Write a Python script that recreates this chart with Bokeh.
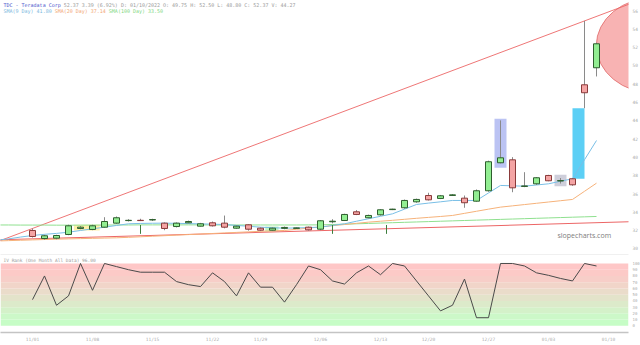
from bokeh.plotting import figure
from bokeh.layouts import column
from bokeh.models import Range1d, FixedTicker, Label
from bokeh.embed import file_html
from bokeh.resources import INLINE

# ---------------- data ----------------
idx = list(range(48))
opens = [31.97, 31.09, 31.13, 31.53, 32.19, 32.08, 32.33, 32.77, 33.05, 33.08,
         33.12, 32.77, 32.40, 32.81, 32.44, 32.81, 32.77, 32.22, 32.59, 32.22,
         32.00, 32.20, 32.20, 32.33, 32.11, 32.92, 33.06, 34.01, 33.36, 33.68,
         34.25, 34.45, 35.10, 35.79, 35.47, 35.80, 35.50, 35.17, 36.31, 39.37,
         39.69, 36.78, 37.07, 37.98, 37.38, 37.62, 47.89, 49.75]
highs = [32.19, 31.50, 31.50, 32.60, 32.45, 32.60, 33.42, 33.50, 33.20, 33.25,
         33.25, 32.85, 32.85, 33.05, 32.80, 32.95, 33.60, 32.50, 32.65, 32.30,
         32.30, 32.40, 32.30, 32.40, 33.10, 33.20, 33.80, 34.20, 33.70, 34.30,
         34.35, 35.35, 35.45, 36.09, 35.85, 35.95, 35.79, 36.45, 39.60, 44.00,
         39.98, 38.34, 37.80, 38.05, 37.70, 37.70, 54.87, 52.50]
lows = [31.20, 30.95, 31.00, 31.45, 32.10, 32.00, 32.25, 32.70, 32.95, 33.00,
        33.00, 32.00, 32.30, 32.75, 32.40, 32.40, 32.20, 32.15, 31.95, 31.90,
        31.95, 32.10, 32.15, 31.95, 32.00, 32.75, 33.00, 33.65, 33.30, 33.60,
        34.20, 34.35, 35.00, 35.25, 35.40, 35.75, 34.45, 35.10, 36.20, 39.30,
        36.15, 36.70, 36.95, 37.35, 37.10, 36.85, 45.33, 48.80]
closes = [31.31, 31.39, 31.42, 32.48, 32.33, 32.48, 32.95, 33.36, 33.08, 33.05,
          33.16, 32.19, 32.77, 32.95, 32.70, 32.48, 32.33, 32.44, 32.11, 32.00,
          32.22, 32.30, 32.25, 32.04, 33.03, 32.98, 33.72, 33.72, 33.61, 34.23,
          34.30, 35.25, 35.36, 35.32, 35.76, 35.86, 35.00, 36.31, 39.48, 39.91,
          36.63, 36.84, 37.73, 37.40, 37.42, 36.96, 47.02, 52.37]

ma_x = list(range(-3, 48))
sma_9 = [30.9, 31.05, 31.25, 31.42, 31.55, 31.65, 31.78, 31.97, 32.15, 32.33,
         32.52, 32.7, 32.74, 32.76, 32.77, 32.75, 32.72, 32.69, 32.66, 32.62,
         32.52, 32.43, 32.33, 32.27, 32.22, 32.25, 32.29, 32.33, 32.52, 32.7,
         32.98, 33.25, 33.52, 33.79, 34.3, 34.81, 34.96, 35.1, 35.25, 35.25,
         35.25, 36.07, 36.89, 36.85, 36.81, 36.94, 37.07, 37.35, 37.62, 39.7,
         41.8]
sma_20 = [30.82, 30.86, 30.9, 30.94, 30.98, 31.02, 31.05, 31.08, 31.11, 31.14,
          31.17, 31.22, 31.28, 31.34, 31.40, 31.46, 31.52, 31.58, 31.64, 31.70,
          31.76, 31.82, 31.88, 31.93, 31.97, 32.1, 32.23, 32.36, 32.49, 32.62,
          32.75, 32.88, 32.98, 33.08, 33.19, 33.3, 33.4, 33.5, 33.61, 33.84,
          34.07, 34.3, 34.52, 34.66, 34.8, 34.94, 35.08, 35.22, 35.36, 36.25,
          37.14]
sma_100 = [32.57, 32.57, 32.56, 32.56, 32.56, 32.55, 32.55, 32.55, 32.56, 32.56,
           32.57, 32.57, 32.58, 32.58, 32.58, 32.58, 32.58, 32.58, 32.57, 32.57,
           32.57, 32.57, 32.57, 32.57, 32.57, 32.57, 32.58, 32.58, 32.62, 32.66,
           32.7, 32.74, 32.78, 32.82, 32.86, 32.9, 32.94, 32.98, 33.02, 33.06,
           33.1, 33.14, 33.18, 33.22, 33.26, 33.3, 33.34, 33.38, 33.42, 33.46,
           33.5]

trend_x = [-3, 50]
trend_up = [30.71, 56.84]
trend_base = [30.94, 32.93]

marker_x = [9, 25, 29.5]
marker_top = [32.57, 32.57, 32.57]
marker_bottom = [31.6, 31.6, 31.6]

box_left = [3.45, 19.4, 38.5, 43.5, 45.0]
box_right = [5.6, 20.5, 39.5, 44.5, 46.0]
box_bottom = [31.97, 31.86, 38.82, 36.81, 37.62]
box_top = [32.59, 32.40, 44.18, 38.05, 45.33]

ellipse_x = [51.9]
ellipse_y = [52.19]
ellipse_w = [9.83]
ellipse_h = [10.5]

iv_rank = [42, 80, 33, 48, 100, 57, 100, 95, 90, 86, 86, 86, 71, 66, 63, 85,
           71, 48, 85, 62, 62, 38, 66, 96, 90, 72, 67, 85, 96, 82, 100, 96,
           72, 48, 24, 33, 75, 13, 13, 100, 100, 96, 85, 81, 76, 72, 100, 96]
iv_band_low = [0, 10, 20, 30, 40, 50, 60, 70, 80, 90]
iv_band_high = [10, 20, 30, 40, 50, 60, 70, 80, 90, 100]

price_ticks = list(range(30, 57, 2))
iv_ticks = list(range(0, 101, 10))
date_idx = [0, 5, 10, 15, 19, 24, 29, 33, 38, 43, 48]
date_labels = ["11/01", "11/08", "11/15", "11/22", "11/29", "12/06",
               "12/13", "12/20", "12/27", "01/03", "01/10"]

title_sym = "TDC - Teradata Corp"
title_rest = "52.37 3.39 (6.92%) D: 01/10/2022 O: 49.75 H: 52.50 L: 48.80 C: 52.37 V: 44.27"
ma_texts = ["SMA(9 Day) 41.80", "SMA(20 Day) 37.14", "SMA(100 Day) 33.50"]
iv_title = "IV Rank (One Month All Data) 96.00"

# ---------------- layout ----------------
FW = 628
PX_PER_IDX = 12.0
X0 = 32.0
x_start = -X0 / PX_PER_IDX
x_end = (FW - X0) / PX_PER_IDX

TOP_H = 255
y_lo, y_hi = 29.235, 57.10
py = TOP_H / (y_hi - y_lo)

MONO = "DejaVu Sans Mono"
AX_COL = "#acacac"

def style_y(ax, ticks, size):
    ax.ticker = FixedTicker(ticks=ticks)
    ax.major_label_text_font_size = size
    ax.major_label_text_color = AX_COL
    ax.major_label_text_font = MONO
    ax.major_label_standoff = 4
    ax.major_tick_out = 0
    ax.major_tick_in = 0
    ax.minor_tick_out = 0
    ax.minor_tick_in = 0
    ax.axis_line_color = None

p = figure(frame_width=FW, frame_height=TOP_H,
           x_range=Range1d(x_start, x_end), y_range=Range1d(y_lo, y_hi),
           y_axis_location="right", output_backend="svg", toolbar_location=None,
           min_border_left=0, min_border_right=0, min_border_top=0, min_border_bottom=0)
p.grid.visible = False
p.outline_line_color = None

for ax in p.xaxis:
    ax.ticker = FixedTicker(ticks=[])
    ax.major_label_text_font_size = "1px"
    ax.major_label_standoff = 0
    ax.major_tick_out = 0
    ax.major_tick_in = 0
    ax.minor_tick_out = 0
    ax.minor_tick_in = 0
    ax.axis_line_color = "#c4c4c4"
    ax.axis_line_width = 1.5

for ax in p.yaxis:
    style_y(ax, price_ticks, "4.5px")

# highlight boxes
box_colors = ["#fff0a8", "#c2f4c2", "#b4bcf2", "#c9c9d6", "#5ccff5"]
box_alphas = [1.0, 1.0, 0.9, 0.9, 1.0]
p.quad(left=box_left, right=box_right, bottom=box_bottom, top=box_top,
       fill_color=box_colors, fill_alpha=box_alphas, line_color=None)

# ellipse
p.ellipse(x=ellipse_x, y=ellipse_y, width=ellipse_w, height=ellipse_h,
          fill_color="#f8b3b3", fill_alpha=1.0, line_color="#e06a6a", line_width=0.8)

# trend lines
p.line(trend_x, trend_up, line_color="#ec6666", line_width=0.9)
p.line(trend_x, trend_base, line_color="#ec6666", line_width=1.1)

# moving averages
p.line(ma_x, sma_100, line_color="#8fe08f", line_width=1)
p.line(ma_x, sma_20, line_color="#f6b27a", line_width=1)
p.line(ma_x, sma_9, line_color="#79bfe6", line_width=1)

# markers
p.segment(x0=marker_x, y0=marker_top, x1=marker_x, y1=marker_bottom,
          line_color="#3d7d3d", line_width=1)

# candles
p.segment(x0=idx, y0=highs, x1=idx, y1=lows, line_color="#8a8a8a", line_width=1)
up = [c >= o for o, c in zip(opens, closes)]
body_top = [max(o, c) for o, c in zip(opens, closes)]
body_bot = [min(o, c) for o, c in zip(opens, closes)]
fills = ["#92ee92" if u else "#f4a4a4" for u in up]
lines = ["#2e5e2e" if u else "#8a3a3a" for u in up]
p.vbar(x=idx, width=0.5, top=body_top, bottom=body_bot,
       fill_color=fills, line_color=lines, line_width=1)

# header texts
cw_px = 3.01
def xdat(px):
    return x_start + px / PX_PER_IDX

y1 = y_hi - 4.5 / py
y2 = y_hi - 10.5 / py
p.add_layout(Label(x=xdat(3), y=y1, text=title_sym, text_font=MONO,
                   text_font_size="5px", text_color="#4a55cc", text_baseline="middle"))
p.add_layout(Label(x=xdat(3 + cw_px * (len(title_sym) + 1)), y=y1, text=title_rest,
                   text_font=MONO, text_font_size="5px", text_color="#9a9a9a",
                   text_baseline="middle"))
ma_cols = ["#7ab8de", "#f2a674", "#7fd87f"]
off = 3
for t, c in zip(ma_texts, ma_cols):
    p.add_layout(Label(x=xdat(off), y=y2, text=t, text_font=MONO,
                       text_font_size="5px", text_color=c, text_baseline="middle"))
    off += cw_px * (len(t) + 1)

p.add_layout(Label(x=xdat(557), y=y_lo + (255 - 235) / py, text="slopecharts.com",
                   text_font="Open Sans", text_font_size="7px", text_color="#7d7d7d",
                   text_baseline="middle"))

# ---------------- IV panel ----------------
BOT_H = 76
iv_lo, iv_hi = -10.7, 111.2
pq = BOT_H / (iv_hi - iv_lo)
q = figure(frame_width=FW, frame_height=BOT_H,
           x_range=p.x_range, y_range=Range1d(iv_lo, iv_hi),
           y_axis_location="right", output_backend="svg", toolbar_location=None,
           min_border_left=0, min_border_right=0, min_border_top=1, min_border_bottom=0)
q.grid.visible = False
q.outline_line_color = None

band_cols = ["#c6fdc6", "#ccf8c8", "#d4f1c9", "#dceaca", "#e3e3ca",
             "#eadcca", "#f1d5c9", "#f7cec8", "#fccac7", "#fec7c7"]
q.quad(left=x_start, right=x_end, bottom=iv_band_low, top=iv_band_high,
       fill_color=band_cols, line_color=None)
q.line(idx, iv_rank, line_color="#4a4a4a", line_width=1)

for ax in q.yaxis:
    style_y(ax, iv_ticks, "4px")

for ax in q.xaxis:
    ax.ticker = FixedTicker(ticks=date_idx)
    ax.major_label_overrides = {i: s for i, s in zip(date_idx, date_labels)}
    ax.major_label_text_font_size = "4.5px"
    ax.major_label_text_color = AX_COL
    ax.major_label_text_font = MONO
    ax.major_label_standoff = 4
    ax.major_tick_out = 0
    ax.major_tick_in = 0
    ax.minor_tick_out = 0
    ax.minor_tick_in = 0
    ax.axis_line_color = "#c4c4c4"
    ax.axis_line_width = 1.5

q.add_layout(Label(x=xdat(3), y=iv_hi - 3.5 / pq, text=iv_title, text_font=MONO,
                   text_font_size="4.5px", text_color="#9a9a9a", text_baseline="middle"))

layout = column(p, q, spacing=0)
open("out.html", "w").write(file_html(layout, INLINE))
